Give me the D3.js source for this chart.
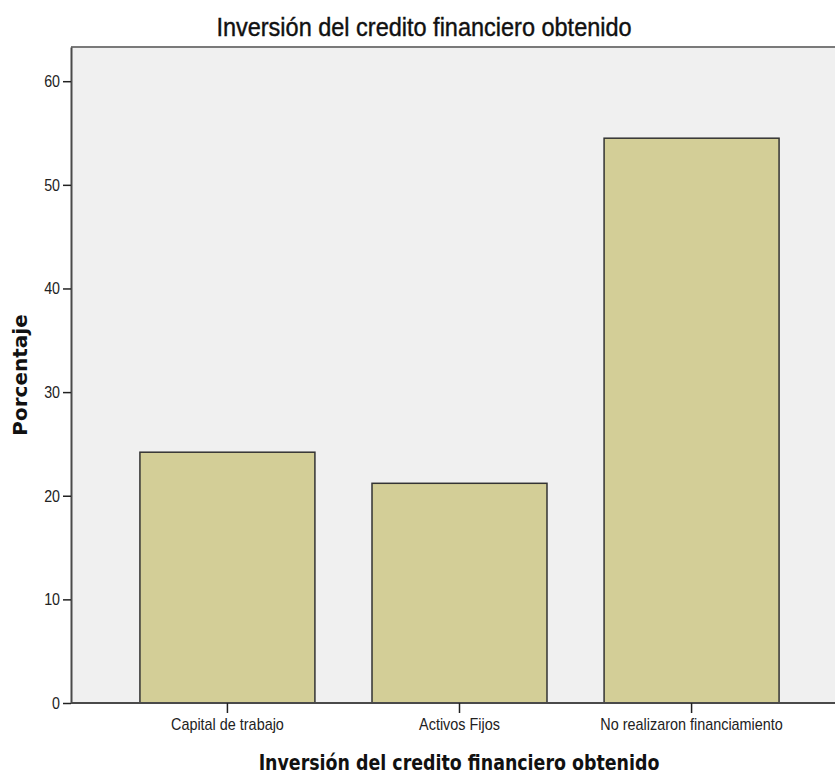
<!DOCTYPE html>
<html>
<head>
<meta charset="utf-8">
<script src="https://cdn.jsdelivr.net/npm/d3@7"></script>
<style>
  html, body { margin: 0; padding: 0; background: #ffffff; }
  svg { display: block; }
</style>
</head>
<body>
<svg id="chart" width="835" height="776"></svg>
<script>
// Inversión del crédito financiero obtenido — porcentaje por categoría
const categories = ["Capital de trabajo", "Activos Fijos", "No realizaron financiamiento"];
const percentages = [24.2, 21.2, 54.5];
const yTicks = [0, 10, 20, 30, 40, 50, 60];
const chartTitle = "Inversión del credito financiero obtenido";
const xTitle = "Inversión del credito financiero obtenido";
const yTitle = "Porcentaje";

const svg = d3.select("#chart");
const W = 835, H = 776;
const plot = { left: 71, top: 47, right: 848, bottom: 703 };
const sans = "'Liberation Sans', Arial, sans-serif";
const boldSans = "'DejaVu Sans', sans-serif";

const x = d3.scaleBand()
  .domain(categories)
  .range([plot.left, plot.right])
  .paddingInner(0.246)
  .paddingOuter(0.297);

const y = d3.scaleLinear()
  .domain([0, 63.3])
  .range([plot.bottom, plot.top]);

// plot background
svg.append("rect")
  .attr("x", plot.left).attr("y", plot.top)
  .attr("width", W - plot.left).attr("height", plot.bottom - plot.top)
  .attr("fill", "#f0f0f0");

// top frame line
svg.append("line")
  .attr("x1", plot.left).attr("x2", W)
  .attr("y1", plot.top).attr("y2", plot.top)
  .attr("stroke", "#7a7a7a").attr("stroke-width", 2);

// bars
svg.append("g").selectAll("rect")
  .data(categories)
  .join("rect")
  .attr("x", d => x(d))
  .attr("y", (d, i) => y(percentages[i]))
  .attr("width", x.bandwidth())
  .attr("height", (d, i) => y(0) - y(percentages[i]))
  .attr("fill", "#d3ce97")
  .attr("stroke", "#333333")
  .attr("stroke-width", 1.5);

// y axis (condensed tick labels)
const ySx = 0.84;
const yAxis = d3.axisLeft(y).tickValues(yTicks).tickSize(8).tickSizeOuter(0).tickPadding(3);
const gy = svg.append("g")
  .attr("transform", `translate(${plot.left},0)`)
  .call(yAxis);
gy.select(".domain").attr("stroke", "#4a4a4a").attr("stroke-width", 2);
gy.selectAll(".tick line").attr("stroke", "#222").attr("stroke-width", 1.5);
gy.selectAll(".tick text")
  .attr("font-family", sans)
  .attr("font-size", 17).attr("fill", "#222")
  .attr("x", -11 / ySx)
  .attr("transform", `scale(${ySx},1)`);

// x axis
const xSx = 0.9;
const xAxis = d3.axisBottom(x).tickSize(10).tickPadding(6).tickSizeOuter(0);
const gx = svg.append("g")
  .attr("transform", `translate(0,${plot.bottom})`)
  .call(xAxis);
gx.select(".domain").attr("stroke", "#4a4a4a").attr("stroke-width", 2)
  .attr("d", `M${plot.left},0H${W}`);
gx.selectAll(".tick line").attr("stroke", "#222").attr("stroke-width", 1.5);
gx.selectAll(".tick text")
  .attr("font-family", sans)
  .attr("font-size", 16).attr("fill", "#222")
  .attr("transform", `scale(${xSx},1)`);

// chart title
svg.append("text")
  .attr("transform", "translate(424,36) scale(0.94,1)")
  .attr("text-anchor", "middle")
  .attr("font-family", sans)
  .attr("font-size", 25)
  .attr("fill", "#111")
  .attr("stroke", "#111").attr("stroke-width", 0.4)
  .text(chartTitle);

// x axis title
svg.append("text")
  .attr("transform", "translate(459,770) scale(0.83,1)")
  .attr("text-anchor", "middle")
  .attr("font-family", boldSans)
  .attr("font-weight", "bold")
  .attr("font-size", 21)
  .attr("fill", "#111")
  .text(xTitle);

// y axis title
svg.append("text")
  .attr("transform", "translate(27,375) rotate(-90)")
  .attr("text-anchor", "middle")
  .attr("font-family", boldSans)
  .attr("font-weight", "bold")
  .attr("font-size", 20)
  .attr("fill", "#111")
  .text(yTitle);
</script>
</body>
</html>
